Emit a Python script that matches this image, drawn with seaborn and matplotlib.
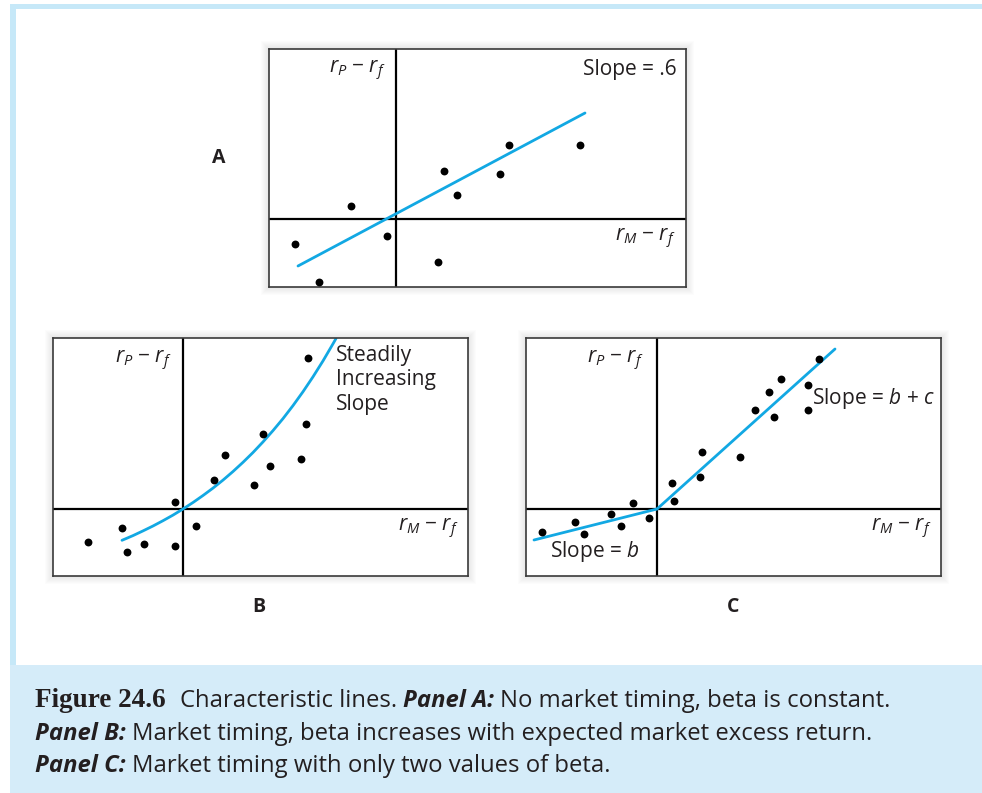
#
#   Characteristic lines: three panels (A, B, C) plus a caption box
#
import matplotlib
matplotlib.use("Agg")

import pandas as pd
import seaborn as sns
from matplotlib import pyplot as plt
from matplotlib.patches import Rectangle


# ---- data (excess returns, arbitrary units) ----

# Panel A: constant beta
a_x = [-10.1, -7.7, -4.5, -0.9, 4.2, 4.8, 6.1, 10.4, 11.3, 18.4]
a_y = [-2.5, -6.3, 1.3, -1.7, -4.3, 4.8, 2.4, 4.5, 7.4, 7.4]
a_line_x = [-9.8, 18.9]
a_line_y = [-4.7, 10.6]

# Panel B: beta rising with the market excess return
b_x = [-9.5, -6.1, -5.6, -3.9, -0.8, -0.8, 1.3, 3.1, 4.2, 7.1, 8.0, 8.7, 11.8, 12.3, 12.5]
b_y = [-3.3, -1.9, -4.3, -3.5, 0.7, -3.7, -1.7, 2.9, 5.4, 2.4, 7.5, 4.3, 5.0, 8.5, 15.1]
b_curve_x = [-6.1, -5, -4, -3, -2, -1, 0, 1, 2, 3, 4, 5, 6, 7,
             8, 9, 10, 11, 12, 13, 14, 15, 15.3]
b_curve_y = [-3.13, -2.66, -2.19, -1.70, -1.17, -0.61, 0.0, 0.65, 1.35, 2.09,
             2.89, 3.75, 4.67, 5.65, 6.71, 7.84, 9.04, 10.34, 11.73, 13.22,
             14.81, 16.52, 17.05]

# Panel C: two values of beta
c_x = [-11.5, -8.2, -7.3, -4.6, -3.6, -2.4, -0.8, 1.5, 1.7, 4.3,
       4.5, 8.3, 9.8, 11.2, 11.7, 12.4, 15.1, 15.1, 16.2]
c_y = [-2.3, -1.3, -2.5, -0.5, -1.7, 0.6, -0.9, 2.6, 0.8, 3.2,
       5.7, 5.2, 9.9, 11.7, 9.2, 13.0, 12.4, 9.9, 15.0]
c_low_x = [-12.3, 0.0]
c_low_y = [-3.1, 0.0]
c_high_x = [0.0, 17.8]
c_high_y = [0.0, 16.0]

# caption text
caption_lines = [
    [("Figure 24.6", "fig"), ("Characteristic lines.", "reg"),
     ("Panel A:", "bi"), ("No market timing, beta is constant.", "reg")],
    [("Panel B:", "bi"), ("Market timing, beta increases with expected market excess return.", "reg")],
    [("Panel C:", "bi"), ("Market timing with only two values of beta.", "reg")],
]


W, H = 982, 793
CYAN = "#12a8e3"
INK = "#231f20"
FONT = "Open Sans"


def px_rect(fig, x0, y0, x1, y1, **kw):
    # rectangle given in pixel coordinates measured from the top left
    r = Rectangle((x0 / W, 1 - y1 / H), (x1 - x0) / W, (y1 - y0) / H,
                  transform=fig.transFigure, **kw)
    fig.patches.append(r)


def put(fig, x, y, s, **kw):
    kw.setdefault("va", "center")
    kw.setdefault("fontsize", 15)
    return fig.text(x / W, 1 - y / H, s, **kw)


def panel(fig, box, xlim, ylim, px, py, lines):
    x0, y0, x1, y1 = box

    # soft grey shadow behind the panel
    for k in range(1, 9):
        px_rect(fig, x0 - k, y0 - k, x1 + k, y1 + k, color="grey",
                alpha=0.025, lw=0, zorder=-1)

    ax = fig.add_axes([x0 / W, 1 - y1 / H, (x1 - x0) / W, (y1 - y0) / H])
    ax.set_facecolor("white")

    ax.axhline(0, color="black", lw=1.6, zorder=1)
    ax.axvline(0, color="black", lw=1.6, zorder=1)

    for lx, ly in lines:
        sns.lineplot(x=lx, y=ly, ax=ax, color=CYAN, lw=2.0,
                     sort=False, estimator=None, zorder=2)

    df = pd.DataFrame({"x": px, "y": py})
    sns.scatterplot(data=df, x="x", y="y", ax=ax, color="black",
                    s=32, linewidth=0, zorder=3)

    ax.set_xlim(xlim)
    ax.set_ylim(ylim)
    ax.set_xticks([])
    ax.set_yticks([])
    ax.set_xlabel("")
    ax.set_ylabel("")
    for sp in ax.spines.values():
        sp.set_visible(True)
        sp.set_color("#3a3a3a")
        sp.set_linewidth(1.2)
    return ax


def main():

    sns.set_style("white")
    plt.rcParams["font.family"] = [FONT, "DejaVu Sans"]
    plt.rcParams["text.color"] = INK
    plt.rcParams["mathtext.fontset"] = "custom"
    plt.rcParams["mathtext.rm"] = FONT
    plt.rcParams["mathtext.it"] = FONT + ":italic"
    plt.rcParams["mathtext.bf"] = FONT + ":bold"

    fig = plt.figure(figsize=(W / 100, H / 100), dpi=100)

    #
    #   light blue frame and caption box
    #
    px_rect(fig, 10, 4, 982, 9, color="#c6e8f8", lw=0, zorder=-2)
    px_rect(fig, 10, 4, 16, 665, color="#c6e8f8", lw=0, zorder=-2)
    px_rect(fig, 10, 665, 982, 793, color="#d5ecf9", lw=0, zorder=-2)

    #
    #   the three panels
    #
    panel(fig, (269, 49, 686, 287), (-12.7, 29.0), (-6.8, 17.0),
          a_x, a_y, [(a_line_x, a_line_y)])
    panel(fig, (53, 338, 468, 576), (-13.0, 28.5), (-6.7, 17.1),
          b_x, b_y, [(b_curve_x, b_curve_y)])
    panel(fig, (526, 338, 941, 576), (-13.1, 28.4), (-6.7, 17.1),
          c_x, c_y, [(c_low_x, c_low_y), (c_high_x, c_high_y)])

    ylab = r"$r_P$ − $r_f$"
    xlab = r"$r_M$ − $r_f$"

    # panel A texts
    put(fig, 386, 70, ylab, ha="right")
    put(fig, 677, 69, "Slope = .6", ha="right")
    put(fig, 676, 238, xlab, ha="right")
    put(fig, 219, 158, "A", ha="center", fontsize=14, fontweight="bold")

    # panel B texts
    put(fig, 172, 360, ylab, ha="right")
    for i, s in enumerate(["Steadily", "Increasing", "Slope"]):
        put(fig, 336, 356 + 24 * i, s, ha="left")
    put(fig, 459, 528, xlab, ha="right")
    put(fig, 259, 607, "B", ha="center", fontsize=14, fontweight="bold")

    # panel C texts
    put(fig, 644, 360, ylab, ha="right")
    put(fig, 812, 398, r"Slope = $b$ + $c$", ha="left")
    put(fig, 550, 552, r"Slope = $b$", ha="left")
    put(fig, 932, 528, xlab, ha="right")
    put(fig, 733, 607, "C", ha="center", fontsize=14, fontweight="bold")

    #
    #   caption, pieces chained one after the other
    #
    renderer = fig.canvas.get_renderer()
    styles = {
        "fig": dict(family="Liberation Serif", fontweight="bold", fontsize=19.5),
        "reg": dict(fontsize=17.2),
        "bi": dict(fontsize=17.2, fontweight="bold", style="italic"),
    }
    baselines = [707, 740, 772]
    for row, pieces in enumerate(caption_lines):
        x = 35
        for text, kind in pieces:
            t = put(fig, x, baselines[row], text, ha="left", va="baseline",
                    **styles[kind])
            bb = t.get_window_extent(renderer)
            gap = 14 if kind == "fig" else 6
            x = x + bb.width + gap

    fig.savefig("out.png", dpi=100)


main()
